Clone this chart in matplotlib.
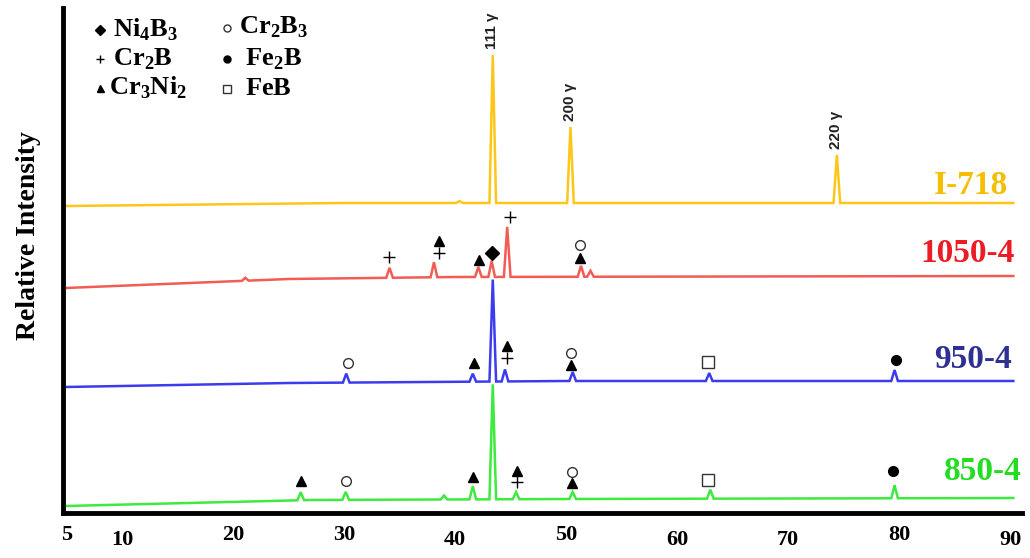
"""
XRD patterns of I-718 and the borided samples (850-4, 950-4, 1050-4).
"""

import matplotlib.pyplot as plt
import numpy as np

plt.rcParams["font.family"] = ["Liberation Serif", "DejaVu Serif"]
plt.rcParams["mathtext.fontset"] = "custom"
plt.rcParams["mathtext.rm"] = "Liberation Serif"
plt.rcParams["mathtext.bf"] = "Liberation Serif:bold"

# ---------------------------------------------------------------------------
# data (2theta in degrees, intensity in arbitrary stacked units)
# ---------------------------------------------------------------------------
X_TICKS = [5, 10, 20, 30, 40, 50, 60, 70, 80, 90]

# baseline knots of each pattern
I718_BASE_X = [4.9, 30, 90.3]
I718_BASE_Y = [307, 310, 310]
S1050_BASE_X = [4.9, 25, 40, 90.3]
S1050_BASE_Y = [225, 234, 236, 237]
S950_BASE_X = [4.9, 25, 50, 90.3]
S950_BASE_Y = [126, 130, 132, 132]
S850_BASE_X = [4.9, 27, 50, 90.3]
S850_BASE_Y = [7, 13, 14, 15]

# peak positions / heights above baseline
I718_PEAK_X = [40.4, 43.4, 50.4, 74.4]
I718_PEAK_H = [2, 148, 76, 48]
S1050_PEAK_X = [21.1, 34.1, 38.1, 42.1, 43.3, 44.7, 51.35, 52.2]
S1050_PEAK_H = [3, 10, 15, 10, 16, 50, 11, 6]
S950_PEAK_X = [30.2, 41.6, 43.4, 44.5, 50.6, 62.9, 79.6]
S950_PEAK_H = [9, 8, 102, 12, 9, 8, 11]
S850_PEAK_X = [26.1, 30.15, 39.0, 41.6, 43.4, 45.5, 50.6, 63.0, 79.6]
S850_PEAK_H = [8, 8, 4, 13, 115, 7, 7, 9, 13]

# gamma reflections of I-718
GAMMA_X = [43.4, 50.4, 74.4]
GAMMA_LABELS = ["111 γ", "200 γ", "220 γ"]

# phase identification symbols: 2theta, height, phase
S1050_MARK_X = [34.05, 38.56, 38.56, 42.16, 43.33, 44.95, 51.26, 51.26]
S1050_MARK_Y = [256, 272, 260, 253, 260, 296, 268, 255]
S1050_MARK_P = ["Cr2B", "Cr3Ni2", "Cr2B", "Cr3Ni2", "Ni4B3", "Cr2B", "Cr2B3", "Cr3Ni2"]
S950_MARK_X = [30.36, 41.71, 44.68, 44.68, 50.45, 50.45, 62.8, 79.7]
S950_MARK_Y = [150, 150, 167, 155, 160, 148, 151, 153]
S950_MARK_P = ["Cr2B3", "Cr3Ni2", "Cr3Ni2", "Cr2B", "Cr2B3", "Cr3Ni2", "FeB", "Fe2B"]
S850_MARK_X = [26.13, 30.18, 41.62, 45.59, 45.59, 50.54, 50.54, 62.8, 79.5]
S850_MARK_Y = [32, 32, 36, 42, 31, 41, 30, 33, 42]
S850_MARK_P = ["Cr3Ni2", "Cr2B3", "Cr3Ni2", "Cr3Ni2", "Cr2B", "Cr2B3", "Cr3Ni2", "FeB", "Fe2B"]

SAMPLE_NAMES = ["I-718", "1050-4", "950-4", "850-4"]

# marker style for each phase
PHASE_STYLE = {
    "Ni4B3": dict(marker="D", ms=7, mfc="black", mec="black"),
    "Cr2B": dict(marker="+", ms=8, mfc="none", mec="black", mew=1.0),
    "Cr3Ni2": dict(marker="^", ms=7, mfc="black", mec="black"),
    "Cr2B3": dict(marker="o", ms=7, mfc="white", mec="#333333", mew=1.0),
    "Fe2B": dict(marker="o", ms=7, mfc="black", mec="black"),
    "FeB": dict(marker="s", ms=8, mfc="white", mec="#333333", mew=1.0),
}
PHASE_TEX = {
    "Ni4B3": r"$\mathbf{Ni}_{\mathbf{4}}\mathbf{B}_{\mathbf{3}}$",
    "Cr2B": r"$\mathbf{Cr}_{\mathbf{2}}\mathbf{B}$",
    "Cr3Ni2": r"$\mathbf{Cr}_{\mathbf{3}}\mathbf{Ni}_{\mathbf{2}}$",
    "Cr2B3": r"$\mathbf{Cr}_{\mathbf{2}}\mathbf{B}_{\mathbf{3}}$",
    "Fe2B": r"$\mathbf{Fe}_{\mathbf{2}}\mathbf{B}$",
    "FeB": r"$\mathbf{FeB}$",
}


def build_pattern(base_x, base_y, peak_x, peak_h, hw=0.3):
    """baseline knots + triangular reflections -> polyline"""
    xs = list(base_x)
    for p in peak_x:
        xs += [p - hw, p, p + hw]
    xs = np.sort(np.array(xs))
    ys = np.interp(xs, base_x, base_y)
    for p, h in zip(peak_x, peak_h):
        ys[np.isclose(xs, p)] += h
    return xs, ys


def main():
    fig = plt.figure(figsize=(10.3, 5.58), dpi=100)
    ax = fig.add_axes([63 / 1030, 45 / 558, 959 / 1030, 505 / 558])

    patterns = [
        (I718_BASE_X, I718_BASE_Y, I718_PEAK_X, I718_PEAK_H, "#FFC61A", "#F5BE00"),
        (S1050_BASE_X, S1050_BASE_Y, S1050_PEAK_X, S1050_PEAK_H, "#F25C54", "#EC1C24"),
        (S950_BASE_X, S950_BASE_Y, S950_PEAK_X, S950_PEAK_H, "#3C3CEE", "#2E3192"),
        (S850_BASE_X, S850_BASE_Y, S850_PEAK_X, S850_PEAK_H, "#3EEA3E", "#22DD22"),
    ]
    label_y = [328, 260, 153, 41]
    label_x = [89.8, 90.4, 90.2, 91.1]
    for (bx, by, px, ph, lc, tc), name, ly, lx in zip(patterns, SAMPLE_NAMES, label_y, label_x):
        xs, ys = build_pattern(bx, by, px, ph)
        ax.plot(xs, ys, color=lc, lw=1.8, solid_joinstyle="miter")
        ax.text(lx, ly, name, color=tc, fontsize=24, fontweight="bold",
                ha="right", va="center", clip_on=False)

    # gamma labels above the I-718 reflections
    for gx, gl in zip(GAMMA_X, GAMMA_LABELS):
        top = np.interp(gx, I718_BASE_X, I718_BASE_Y) + I718_PEAK_H[I718_PEAK_X.index(gx)]
        ax.text(gx - 0.05, top + 6, gl, rotation=90, ha="center", va="bottom",
                fontsize=11, fontweight="bold", color="#222222",
                family=["Liberation Sans", "DejaVu Sans"])

    # phase symbols
    for mx, my, mp in [(S1050_MARK_X, S1050_MARK_Y, S1050_MARK_P),
                       (S950_MARK_X, S950_MARK_Y, S950_MARK_P),
                       (S850_MARK_X, S850_MARK_Y, S850_MARK_P)]:
        for x, y, p in zip(mx, my, mp):
            ax.plot(x, y, ls="none", **PHASE_STYLE[p])

    # legend block (top left)
    legend_rows = [("Ni4B3", 0.039, 0.052, 0.957), ("Cr2B", 0.039, 0.052, 0.899),
                   ("Cr3Ni2", 0.039, 0.048, 0.842), ("Cr2B3", 0.171, 0.184, 0.961),
                   ("Fe2B", 0.171, 0.190, 0.899), ("FeB", 0.171, 0.190, 0.840)]
    for p, mx, tx, yf in legend_rows:
        st = dict(PHASE_STYLE[p])
        st["ms"] = st["ms"] * 0.72
        ax.plot(mx, yf, ls="none", transform=ax.transAxes, clip_on=False, **st)
        ax.text(tx, yf, PHASE_TEX[p], transform=ax.transAxes, fontsize=19,
                ha="left", va="center")

    ax.set_xlim(4.68, 91.08)
    ax.set_ylim(0, 505)
    ax.set_xticks(X_TICKS)
    ax.set_xticklabels([str(t) for t in X_TICKS])
    ax.set_yticks([])
    ax.tick_params(axis="x", length=0, labelsize=16)
    for lab in ax.get_xticklabels():
        lab.set_fontweight("bold")
    low = {10, 40, 60, 70, 90}
    for t, tick in zip(X_TICKS, ax.xaxis.get_major_ticks()):
        tick.set_pad(12 if t in low else 9)

    for s in ["top", "right"]:
        ax.spines[s].set_visible(False)
    for s in ["left", "bottom"]:
        ax.spines[s].set_linewidth(3.5)
        ax.spines[s].set_capstyle("projecting")

    ax.set_ylabel("Relative Intensity", fontsize=20, fontweight="bold")
    ax.yaxis.set_label_coords(-0.023, 0.55)

    fig.savefig("out.png", dpi=100)
    plt.close(fig)


if __name__ == "__main__":
    main()
